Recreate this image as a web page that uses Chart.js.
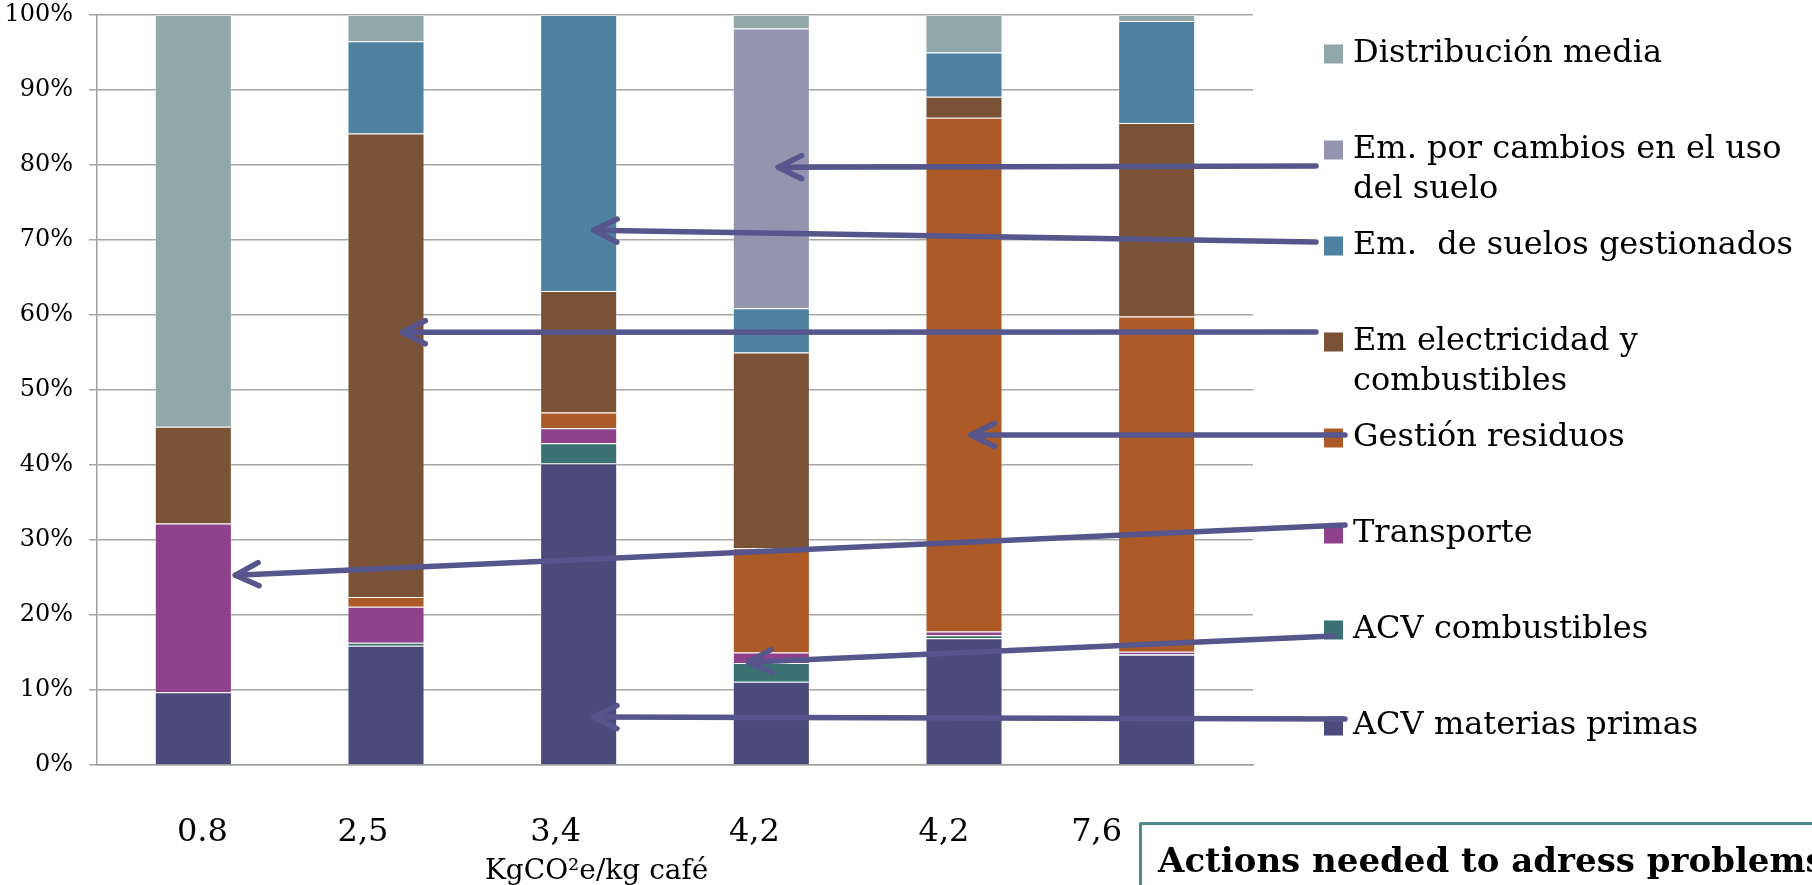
<!DOCTYPE html>
<html>
<head>
<meta charset="utf-8">
<title>Huella de carbono del café</title>
<script src="https://cdn.jsdelivr.net/npm/chart.js@4.4.1/dist/chart.umd.min.js"></script>
<style>
  html, body { margin: 0; padding: 0; background: #fff; }
  #wrap { position: relative; width: 1812px; height: 885px; overflow: hidden; }
</style>
</head>
<body>
<div id="wrap"><canvas id="chart" width="1812" height="885"></canvas></div>
<script>
// Footprint totals (kg CO2e per kg of coffee) used as category labels
const categories = ['0.8', '2,5', '3,4', '4,2', '4,2', '7,6'];

// Share of each stage in the total footprint (%), stacked bottom to top
const acvMateriasPrimas   = [9.7, 15.9, 40.2, 11.1, 16.9, 14.7];
const acvCombustibles     = [0.0, 0.4, 2.7, 2.5, 0.4, 0.1];
const transporte          = [22.5, 4.8, 2.0, 1.4, 0.5, 0.3];
const gestionResiduos     = [0.0, 1.3, 2.1, 13.9, 68.5, 44.7];
const emElectricidad      = [12.9, 61.8, 16.2, 26.1, 2.8, 25.8];
const emSuelosGestionados = [0.0, 12.3, 36.8, 5.9, 5.9, 13.6];
const emCambiosUso        = [0.0, 0.0, 0.0, 37.3, 0.0, 0.0];
const distribucionMedia   = [54.9, 3.5, 0.0, 1.8, 5.0, 0.8];

// Percent axis ticks
const percentTicks = [0, 10, 20, 30, 40, 50, 60, 70, 80, 90, 100];

const axisTitle = 'KgCO\u00B2e/kg café';
const boxTitle = 'Actions needed to adress problems';

// Series definitions (bottom of the stack first)
const series = [
  { label: 'ACV materias primas', values: acvMateriasPrimas, color: '#4A4B7A', lines: ['ACV materias primas'] },
  { label: 'ACV combustibles', values: acvCombustibles, color: '#3B7173', lines: ['ACV combustibles'] },
  { label: 'Transporte', values: transporte, color: '#8E428C', lines: ['Transporte'] },
  { label: 'Gestión residuos', values: gestionResiduos, color: '#AB5A28', lines: ['Gestión residuos'] },
  { label: 'Em electricidad y combustibles', values: emElectricidad, color: '#7A5235', lines: ['Em electricidad y', 'combustibles'] },
  { label: 'Em.  de suelos gestionados', values: emSuelosGestionados, color: '#4F81A0', lines: ['Em.  de suelos gestionados'] },
  { label: 'Em. por cambios en el uso del suelo', values: emCambiosUso, color: '#9594B0', lines: ['Em. por cambios en el uso', 'del suelo'] },
  { label: 'Distribución media', values: distribucionMedia, color: '#91A8AB', lines: ['Distribución media'] }
];

// Callout arrows: which legend entry (top = 0) points at which bar and height (%)
const callouts = [
  { legendRow: 1, category: 3, value: 79.7 },
  { legendRow: 2, category: 2, value: 71.3 },
  { legendRow: 3, category: 1, value: 57.7 },
  { legendRow: 4, category: 4, value: 44.0 },
  { legendRow: 5, category: 0, value: 25.3 },
  { legendRow: 6, category: 3, value: 13.7 },
  { legendRow: 7, category: 2, value: 6.4 }
];

// Drawing layout for the side legend, callouts and labels (pixels)
const look = {
  font: '"DejaVu Serif", Georgia, serif',
  legendX: 1324, legendFirstY: 54, legendStep: 96, swatch: 19, textGap: 10, lineGap: 40,
  arrowColor: '#56558C', arrowWidth: 5.5, headLen: 26, headSpread: 0.46,
  tipDx:  [7, 15, 16, 7, 42, -23, 15],
  tailDx: [-8, -8, -8, 21, 21, 9, 21],
  tailDy: [16, -4, -10, -3, -9, 6, -7],
  labelShift: [9, -23, -23, -17, -20, -60],
  labelDrop: 68, titleDrop: 107, titleShift: 18
};

const overlay = {
  id: 'overlay',
  afterDraw(chart) {
    const { ctx } = chart;
    const x = chart.scales.x, y = chart.scales.y;
    ctx.save();

    // Category labels under the bars
    ctx.fillStyle = '#000';
    ctx.textAlign = 'center';
    ctx.textBaseline = 'middle';
    ctx.font = '32px ' + look.font;
    categories.forEach((c, i) => {
      ctx.fillText(c, x.getPixelForValue(i) + look.labelShift[i], y.bottom + look.labelDrop);
    });
    ctx.font = '28px ' + look.font;
    ctx.fillText(axisTitle, x.getPixelForValue(2) + look.titleShift, y.bottom + look.titleDrop);

    // Side legend, top entry = last stacked series
    const rows = series.slice().reverse();
    ctx.textAlign = 'left';
    ctx.font = '32px ' + look.font;
    rows.forEach((s, k) => {
      const cy = look.legendFirstY + k * look.legendStep;
      ctx.fillStyle = s.color;
      ctx.fillRect(look.legendX, cy - look.swatch / 2, look.swatch, look.swatch);
      ctx.fillStyle = '#000';
      s.lines.forEach((t, j) => {
        ctx.fillText(t, look.legendX + look.swatch + look.textGap, cy + j * look.lineGap);
      });
    });

    // Callout arrows from legend entries to the bars
    ctx.strokeStyle = look.arrowColor;
    ctx.lineWidth = look.arrowWidth;
    ctx.lineCap = 'round';
    ctx.lineJoin = 'round';
    callouts.forEach((c, k) => {
      const tx = x.getPixelForValue(c.category) + look.tipDx[k];
      const ty = y.getPixelForValue(c.value);
      const sx = look.legendX + look.tailDx[k];
      const sy = look.legendFirstY + c.legendRow * look.legendStep + look.tailDy[k];
      ctx.beginPath();
      ctx.moveTo(sx, sy);
      ctx.lineTo(tx, ty);
      ctx.stroke();
      const a = Math.atan2(ty - sy, tx - sx);
      ctx.beginPath();
      ctx.moveTo(tx - look.headLen * Math.cos(a - look.headSpread), ty - look.headLen * Math.sin(a - look.headSpread));
      ctx.lineTo(tx, ty);
      ctx.lineTo(tx - look.headLen * Math.cos(a + look.headSpread), ty - look.headLen * Math.sin(a + look.headSpread));
      ctx.stroke();
    });

    // Framed note in the lower right corner
    ctx.lineWidth = 3;
    ctx.strokeStyle = '#4B8A8D';
    ctx.strokeRect(1140.5, 823.5, 800, 200);
    ctx.fillStyle = '#000';
    ctx.font = 'bold 34px ' + look.font;
    ctx.textBaseline = 'alphabetic';
    ctx.fillText(boxTitle, 1158, 872);

    ctx.restore();
  }
};

new Chart(document.getElementById('chart'), {
  type: 'bar',
  data: {
    labels: categories,
    datasets: series.map(s => ({
      label: s.label,
      data: s.values,
      backgroundColor: s.color,
      borderColor: 'rgba(255,255,255,0.28)',
      borderWidth: 1,
      barPercentage: 0.4,
      categoryPercentage: 1.0
    }))
  },
  options: {
    responsive: false,
    animation: false,
    events: [],
    layout: { padding: { top: 15, right: 559, left: 0, bottom: 0 } },
    plugins: { legend: { display: false }, tooltip: { enabled: false } },
    scales: {
      x: {
        stacked: true,
        grid: { display: false },
        border: { display: true, color: '#A0A0A0', width: 1.5 },
        ticks: { display: false },
        afterFit(scale) { scale.height = 120; scale.paddingLeft = 0; scale.paddingRight = 0; }
      },
      y: {
        stacked: true,
        min: 0,
        max: 100,
        afterBuildTicks(scale) { scale.ticks = percentTicks.map(v => ({ value: v })); },
        ticks: {
          callback: v => v + '%',
          color: '#000',
          padding: 16,
          font: { family: '"DejaVu Serif"', size: 24 }
        },
        grid: { color: '#A6A6A6', lineWidth: 1.5, tickLength: 8 },
        border: { display: true, color: '#A0A0A0', width: 1.5 },
        afterFit(scale) { scale.width = 97; scale.paddingTop = 0; scale.paddingBottom = 0; }
      }
    }
  },
  plugins: [overlay]
});
</script>
</body>
</html>
